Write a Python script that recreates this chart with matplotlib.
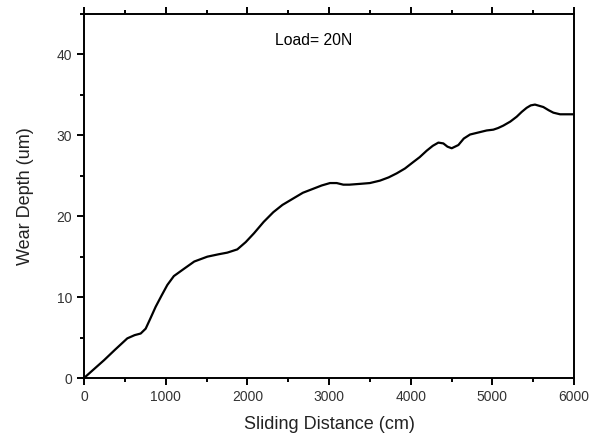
import matplotlib
matplotlib.use('Agg')
import matplotlib.pyplot as plt
from matplotlib.ticker import MultipleLocator

# values
distance = [0, 100, 245, 380, 530, 620, 694, 755, 810, 877, 950, 1020, 1100,
            1224, 1350, 1510, 1650, 1755, 1877, 1980, 2082, 2200, 2318, 2430,
            2563, 2680, 2808, 2910, 3012, 3094, 3175, 3250, 3380, 3500, 3624,
            3730, 3829, 3930, 4032, 4110, 4196, 4270, 4339, 4400, 4450, 4502,
            4584, 4650, 4727, 4849, 4930, 5012, 5070, 5134, 5220, 5298, 5360,
            5420, 5470, 5522, 5624, 5690, 5747, 5829, 5900, 6000]
depth = [0, 0.9, 2.2, 3.5, 4.9, 5.3, 5.5, 6.1, 7.3, 8.8, 10.2, 11.5, 12.6,
         13.5, 14.4, 15.0, 15.3, 15.5, 15.9, 16.8, 17.9, 19.3, 20.5, 21.4,
         22.2, 22.9, 23.4, 23.8, 24.1, 24.1, 23.9, 23.9, 24.0, 24.1, 24.4,
         24.8, 25.3, 25.9, 26.7, 27.3, 28.1, 28.7, 29.1, 29.0, 28.6, 28.4,
         28.8, 29.6, 30.1, 30.4, 30.6, 30.7, 30.9, 31.2, 31.7, 32.3, 32.9,
         33.4, 33.7, 33.8, 33.5, 33.1, 32.8, 32.6, 32.6, 32.6]

plt.rcParams['font.family'] = ['Liberation Sans', 'DejaVu Sans']

fig = plt.figure(figsize=(5.98, 4.37), dpi=100)
ax = fig.add_axes([0.1405, 0.135, 0.8194, 0.833])

ax.plot(distance, depth, color='black', lw=1.6, solid_joinstyle='round')

ax.set_xlim(0, 6000)
ax.set_ylim(0, 45)
ax.xaxis.set_major_locator(MultipleLocator(1000))
ax.xaxis.set_minor_locator(MultipleLocator(500))
ax.yaxis.set_major_locator(MultipleLocator(10))
ax.yaxis.set_minor_locator(MultipleLocator(5))

for side in ax.spines.values():
    side.set_linewidth(1.4)

ax.tick_params(which='both', direction='out', top=True, right=False,
               labelsize=10, labelcolor='#333333', width=1.4)
ax.tick_params(which='major', length=5)
ax.tick_params(which='minor', length=3)

ax.set_xlabel('Sliding Distance (cm)', fontsize=13, labelpad=9, color='#222222')
ax.set_ylabel('Wear Depth (um)', fontsize=13, labelpad=16, color='#222222')
ax.text(0.39, 0.915, 'Load= 20N', transform=ax.transAxes, fontsize=11.3)

fig.savefig('out.png', dpi=100)
